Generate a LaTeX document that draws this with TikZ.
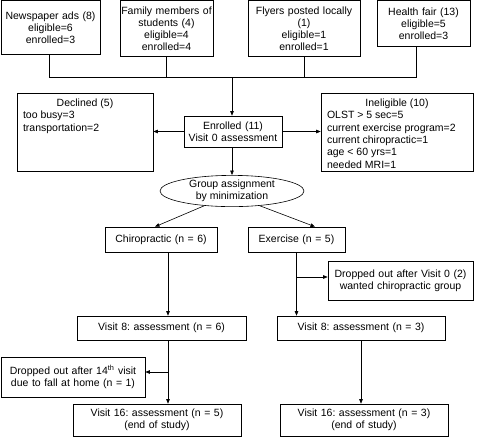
\documentclass[tikz,border=0pt]{standalone}
\usepackage{fontspec}
\setmainfont{Liberation Sans}
\usetikzlibrary{arrows.meta, shapes.geometric}
\frenchspacing

\begin{document}
\begin{tikzpicture}[x=1pt, y=-1pt, >={Triangle[length=4.5pt,width=3.5pt]}, line width=0.6pt,
    box/.style={draw, rectangle, align=center, inner sep=1pt, font=\fontsize{10.5}{12.3}\selectfont},
    listbox/.style={draw, rectangle, inner sep=6pt, font=\fontsize{10.5}{12.3}\selectfont},
    oval/.style={draw, ellipse, align=center, inner sep=0pt, minimum width=144pt, minimum height=26pt, font=\fontsize{10.5}{12.3}\selectfont}]
    \useasboundingbox (0,0) rectangle (481,437);

    % Recruitment sources
    \node[box, text width=97pt, minimum height=54pt] (news) at (50.5,27.7) {Newspaper ads (8)\\eligible=6\\enrolled=3};
    \node[box, text width=91pt, minimum height=56pt] (family) at (166.5,28.7) {Family members of\\students (4)\\eligible=4\\enrolled=4};
    \node[box, text width=110pt, minimum height=56pt] (flyers) at (304,28.7) {Flyers posted locally\\(1)\\eligible=1\\enrolled=1};
    \node[box, text width=91pt, minimum height=46pt] (health) at (423.5,23.7) {Health fair (13)\\eligible=5\\enrolled=3};

    \coordinate (jl) at (49,77);
    \coordinate (jc) at (232,77);
    \coordinate (jr) at (416,77);
    \draw (news.south -| jl) -- (jl) -- (jr) -- (health.south -| jr);
    \draw (family.south) -- (family.south |- jl);
    \draw (flyers.south) -- (flyers.south |- jl);

    % Enrollment
    \node[box, text width=96pt, minimum height=31pt] (enrolled) at (233,131.5) {Enrolled (11)\\Visit 0 assessment};
    \node[listbox] (declined) at (85,132) {\parbox[c][66pt][t]{124pt}{\centering Declined (5)\par\raggedright too busy=3\\transportation=2}};
    \node[listbox] (inelig) at (397,132) {\parbox[c][66pt][t]{140pt}{\centering Ineligible (10)\par\raggedright OLST > 5 sec=5\\current exercise program=2\\current chiropractic=1\\age < 60 yrs=1\\needed MRI=1}};
    \draw[->] (jc) -- (jc |- enrolled.north);
    \draw[->] (enrolled.west) -- (enrolled.west -| declined.east);
    \draw[->] (enrolled.east) -- (enrolled.east -| inelig.west);

    % Group assignment
    \node[oval] (assign) at (232,191) {Group assignment\\by minimization};
    \draw[->] (enrolled.south -| assign.north) -- (assign.north);
    \node[box, text width=110pt, minimum height=25pt] (chiro) at (161,239.5) {Chiropractic (n = 6)};
    \node[box, text width=95pt, minimum height=25pt] (exer) at (296.5,239.5) {Exercise (n = 5)};
    \draw[->] (assign.208) -- ([xshift=-6pt]chiro.north);
    \draw[->] (assign.332) -- ([xshift=18.5pt]exer.north);

    % Follow-up
    \node[box, text width=143pt, minimum height=39pt] (drop0) at (400.5,280.5) {Dropped out after Visit 0 (2)\\wanted chiropractic group};
    \node[box, text width=167pt, minimum height=24pt] (v8a) at (161.5,328) {Visit 8: assessment (n = 6)};
    \node[box, text width=166pt, minimum height=24pt] (v8b) at (361,328) {Visit 8: assessment (n = 3)};
    \node[box, text width=142pt, minimum height=40pt] (drop14) at (73,377) {Dropped out after 14\textsuperscript{th} visit\\due to fall at home (n = 1)};
    \node[box, text width=166pt, minimum height=32pt] (v16a) at (157,420) {Visit 16: assessment (n = 5)\\(end of study)};
    \node[box, text width=166pt, minimum height=32pt] (v16b) at (364,420) {Visit 16: assessment (n = 3)\\(end of study)};

    \coordinate (cl) at (168,0);
    \coordinate (b0) at (296.5,277);
    \coordinate (b14) at (168,372);
    \draw[->] (chiro.south -| cl) -- (v8a.north -| cl);
    \draw[->] (exer.south) -- (exer.south |- v8b.north);
    \draw[->] (b0) -- (b0 -| drop0.west);
    \draw[->] (v8a.south -| cl) -- (v16a.north -| cl);
    \draw[->] (b14) -- (b14 -| drop14.east);
    \draw[->] (v8b.south) -- (v8b.south |- v16b.north);
\end{tikzpicture}
\end{document}
